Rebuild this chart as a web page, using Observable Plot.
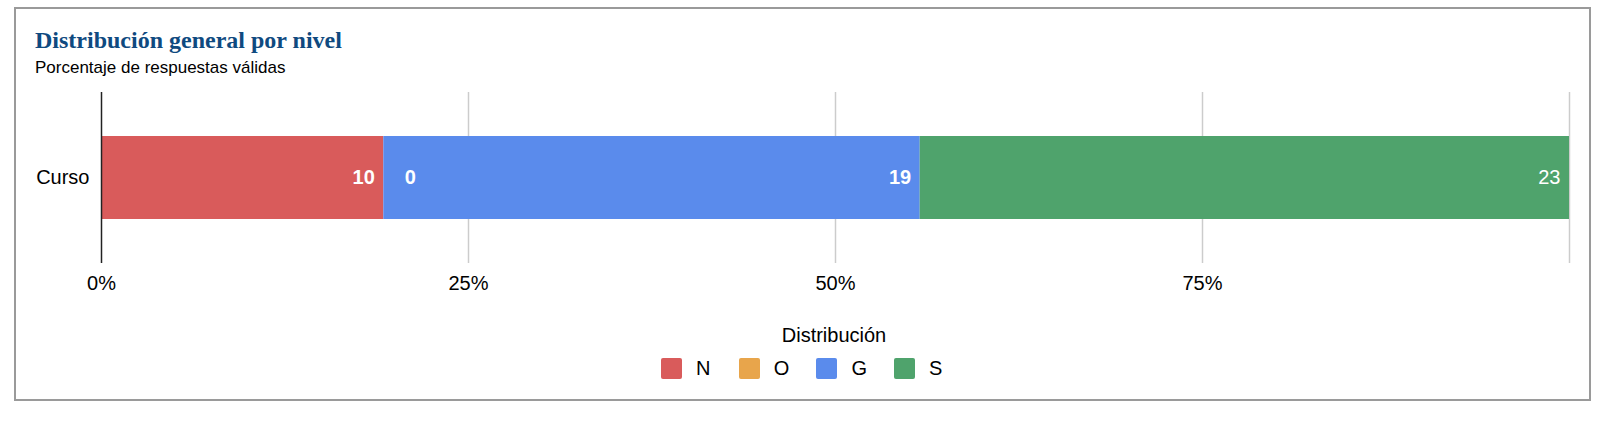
<!DOCTYPE html>
<html>
<head>
<meta charset="utf-8">
<script src="https://cdn.jsdelivr.net/npm/d3@7"></script>
<script src="https://cdn.jsdelivr.net/npm/@observablehq/plot@0.6"></script>
<style>
  html, body { margin: 0; padding: 0; background: #fff; }
  body { position: relative; width: 1600px; height: 426px; font-family: Arial, "Liberation Sans", sans-serif; color: #000; }
  .frame { position: absolute; left: 14px; top: 7px; width: 1577px; height: 394px; box-sizing: border-box; border: 2px solid #9a9a9a; }
  .title { position: absolute; left: 35px; top: 28px; font-family: "Times New Roman", "Liberation Serif", serif; font-weight: bold; font-size: 24px; line-height: 24px; color: #0f4a80; white-space: nowrap; }
  .subtitle { position: absolute; left: 35px; top: 58.6px; font-size: 17px; line-height: 17px; white-space: nowrap; }
  #chart { position: absolute; left: 0; top: 0; }
  .legend-title { position: absolute; left: 734px; top: 325px; width: 200px; text-align: center; font-size: 20px; line-height: 20px; }
  .legend { position: absolute; left: 661px; top: 358px; display: flex; }
  .item { width: 77.7px; display: flex; align-items: center; height: 21px; }
  .sw { width: 21px; height: 21px; border-radius: 2px; flex: none; }
  .lab { margin-left: 14px; font-size: 20px; line-height: 21px; }
</style>
</head>
<body>
<div id="chart"></div>
<div class="frame"></div>
<div class="title">Distribución general por nivel</div>
<div class="subtitle">Porcentaje de respuestas válidas</div>
<div class="legend-title">Distribución</div>
<div class="legend" id="legend"></div>
<script>
const levels = ["Curso"];
const categories = ["N", "O", "G", "S"];
const values = [10, 0, 19, 23];
const colors = ["#d95b5b", "#e8a54b", "#5a8bec", "#4fa36c"];
const xTicks = [0, 0.25, 0.5, 0.75];
const gridTicks = [0.25, 0.5, 0.75, 1];

const rows = categories.map((c, i) => ({nivel: levels[0], cat: c, value: values[i]}));
const stackOpts = {x: "value", y: "nivel", z: "cat", offset: "normalize"};

const chart = Plot.plot({
  width: 1600,
  height: 300,
  marginTop: 92,
  marginBottom: 37,
  marginLeft: 101,
  marginRight: 31,
  style: {fontFamily: "Arial, 'Liberation Sans', sans-serif", fontSize: "20px", color: "#000", background: "transparent", overflow: "visible"},
  x: {domain: [0, 1]},
  y: {domain: levels, padding: 0.3464},
  color: {domain: categories, range: colors},
  marks: [
    Plot.gridX(gridTicks, {stroke: "#cccccc", strokeOpacity: 1, strokeWidth: 1.5}),
    Plot.barX(rows, Plot.stackX({...stackOpts, fill: "cat"})),
    Plot.ruleX([0], {stroke: "#222", strokeWidth: 1.5}),
    Plot.axisX({ticks: xTicks, tickFormat: d3.format(".0%"), tickSize: 0, tickPadding: 12, label: null, fontSize: 20}),
    Plot.axisY({tickSize: 0, tickPadding: 12, label: null, fontSize: 20}),
    Plot.textX(rows, Plot.stackX2({...stackOpts, text: d => (d.cat === "N" || d.cat === "G") ? String(d.value) : "", textAnchor: "end", dx: -9, fill: "white", fontWeight: "bold", fontSize: 20})),
    Plot.textX(rows, Plot.stackX2({...stackOpts, text: d => d.cat === "O" ? String(d.value) : "", textAnchor: "end", dx: 32, fill: "white", fontWeight: "bold", fontSize: 20})),
    Plot.textX(rows, Plot.stackX2({...stackOpts, text: d => d.cat === "S" ? String(d.value) : "", textAnchor: "end", dx: -9, fill: "white", fontWeight: "normal", fontSize: 20}))
  ]
});
document.getElementById("chart").appendChild(chart);

const legend = document.getElementById("legend");
categories.forEach((c, i) => {
  const item = document.createElement("div");
  item.className = "item";
  const sw = document.createElement("div");
  sw.className = "sw";
  sw.style.background = colors[i];
  const lab = document.createElement("span");
  lab.className = "lab";
  lab.textContent = c;
  item.appendChild(sw);
  item.appendChild(lab);
  legend.appendChild(item);
});
</script>
</body>
</html>
